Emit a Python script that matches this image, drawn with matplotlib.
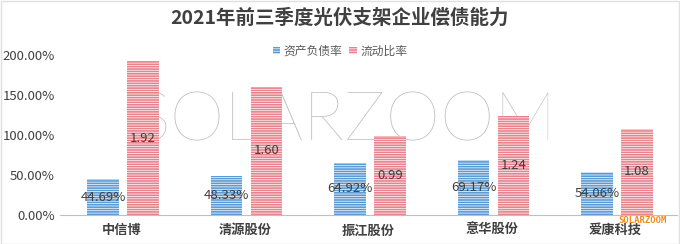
import numpy as np
import matplotlib
matplotlib.use("Agg")
import matplotlib.pyplot as plt
from matplotlib.patches import Rectangle

plt.rcParams['font.family'] = ['Noto Sans CJK SC', 'DejaVu Sans']
plt.rcParams['hatch.linewidth'] = 0.5

companies = ['中信博', '清源股份', '振江股份', '意华股份', '爱康科技']
debt_ratio = [44.69, 48.33, 64.92, 69.17, 54.06]      # 资产负债率 (%)
current_ratio = [1.92, 1.60, 0.99, 1.24, 1.08]         # 流动比率
yticks = [0, 50, 100, 150, 200]

blue = '#5b9bd5'
red = '#e8828c'
txt = '#404040'

fig = plt.figure(figsize=(6.8, 2.44), dpi=100)
ax = fig.add_axes([0.088, 0.119, 0.908, 0.656])
ax.patch.set_alpha(0)

x = np.arange(len(companies))
w = 0.255
b1 = ax.bar(x - 0.15, debt_ratio, w, color=blue, edgecolor='white', linewidth=0, hatch='-------')
b2 = ax.bar(x + 0.175, [v * 100 for v in current_ratio], w, color=red, edgecolor='white', linewidth=0, hatch='-------')

for rect, v in zip(b1, debt_ratio):
    ax.text(rect.get_x() + rect.get_width() / 2, rect.get_height() / 2, '%.2f%%' % v,
            ha='center', va='center', fontsize=9.5, color=txt, zorder=5)
for rect, v in zip(b2, current_ratio):
    ax.text(rect.get_x() + rect.get_width() / 2, rect.get_height() / 2, '%.2f' % v,
            ha='center', va='center', fontsize=9.5, color=txt, zorder=5)

ax.set_xlim(-0.5, len(companies) - 0.5)
ax.set_ylim(0, 200)
ax.set_yticks(yticks)
ax.set_yticklabels(['%.2f%%' % t for t in yticks], fontsize=9.5, color=txt)
ax.set_xticks(x)
ax.set_xticklabels(companies, fontsize=9.5, fontweight='bold', color=txt)
ax.tick_params(length=0)
ax.tick_params(axis='x', pad=6)
for s in ['top', 'right', 'left']:
    ax.spines[s].set_visible(False)
ax.spines['bottom'].set_color('#bfbfbf')

fig.text(0.5, 0.925, '2021年前三季度光伏支架企业偿债能力', ha='center', va='center',
         fontsize=14, fontweight='bold', color=txt)

leg = fig.legend([b1, b2], ['资产负债率', '流动比率'], loc='center', bbox_to_anchor=(0.5, 0.79),
                 ncol=2, frameon=False, fontsize=8.5, handlelength=0.6, handleheight=0.6,
                 handletextpad=0.3, columnspacing=0.6)
for t in leg.get_texts():
    t.set_color('#595959')

# watermarks (big one sits behind the bars)
fig.text(0.507, 0.50, 'SOLARZOOM', ha='center', va='center', fontsize=50,
         color='#bdbdbd', family='Lato', fontweight='light', zorder=-1)
fig.text(0.945, 0.095, 'SOLARZOOM', ha='center', va='center', fontsize=6.5,
         color='#f08a24', family='DejaVu Sans Mono', fontweight='bold')

fig.patches.append(Rectangle((0.001, 0.002), 0.997, 0.995, transform=fig.transFigure,
                             fill=False, edgecolor='#e0e0e0', linewidth=1))

fig.savefig('out.png', dpi=100)
